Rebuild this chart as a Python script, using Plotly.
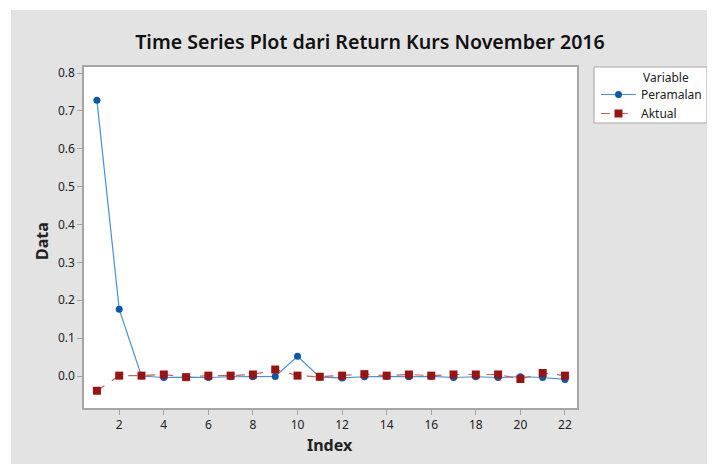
import plotly.graph_objects as go

index = list(range(1, 23))
peramalan = [0.728, 0.176, 0.000, -0.004, -0.003, -0.004, -0.002, -0.002, -0.001, 0.052, -0.003,
             -0.005, -0.002, -0.001, -0.002, -0.001, -0.004, -0.002, -0.004, -0.002, -0.004, -0.009]
aktual = [-0.039, 0.001, 0.001, 0.004, -0.003, 0.001, 0.001, 0.004, 0.017, 0.001, -0.002,
          0.001, 0.005, 0.001, 0.004, 0.001, 0.004, 0.004, 0.004, -0.008, 0.008, 0.001]
x_ticks = list(range(2, 23, 2))
y_ticks = [0.0, 0.1, 0.2, 0.3, 0.4, 0.5, 0.6, 0.7, 0.8]

FONT = "Noto Sans"
OFF = 8  # page body margin
W, H = 715 - OFF, 464 - OFF
L, R, T, B = 84 - OFF, 577 - OFF, 67 - OFF, 408 - OFF
pw, ph = R - L, B - T

def px(xr):
    return (xr - OFF - L) / pw

def py(yr):
    return (B - (yr - OFF)) / ph

fig = go.Figure()
fig.add_trace(go.Scatter(
    x=index, y=peramalan, name="Peramalan", mode="lines+markers",
    line=dict(color="#4A8FD6", width=1.2),
    marker=dict(symbol="circle", size=7, color="#0A58A8"),
))
fig.add_trace(go.Scatter(
    x=index, y=aktual, name="Aktual", mode="lines+markers",
    line=dict(color="#C46060", width=1.2, dash="dash"),
    marker=dict(symbol="square", size=8, color="#9A1313"),
))

axis_common = dict(
    showline=True, linecolor="#A6A6A6", linewidth=1.5, mirror=True,
    ticks="outside", ticklen=5, tickcolor="#A6A6A6", tickwidth=1,
    showgrid=False, zeroline=False,
    tickfont=dict(family=FONT, size=12, color="#222222"),
)

fig.update_layout(
    width=W, height=H,
    margin=dict(l=L, r=W - R, t=T, b=H - B, autoexpand=False),
    paper_bgcolor="#E3E3E3", plot_bgcolor="white",
    title=dict(text="Time Series Plot dari Return Kurs November 2016",
               x=(370 - OFF) / W, xanchor="center", y=1 - (42 - OFF) / H, yanchor="middle",
               font=dict(family=FONT, size=19.6, color="#111111", weight=600)),
    xaxis=dict(range=[0.42, 22.54], tickvals=x_ticks, **axis_common),
    yaxis=dict(range=[-0.0845, 0.816], tickvals=y_ticks, tickformat=".1f", **axis_common),
    showlegend=True,
    legend=dict(x=px(596), y=py(80), xanchor="left", yanchor="top",
                bgcolor="rgba(0,0,0,0)", borderwidth=0,
                font=dict(family=FONT, size=12, color="#222222"),
                tracegroupgap=0, itemwidth=35),
)

# white strips on the left and top edges of the image
fig.add_shape(type="rect", xref="paper", yref="paper", x0=px(-20), x1=px(11), y0=py(480), y1=py(-20),
              fillcolor="white", line=dict(width=0), layer="below")
fig.add_shape(type="rect", xref="paper", yref="paper", x0=px(-20), x1=px(730), y0=py(10), y1=py(-20),
              fillcolor="white", line=dict(width=0), layer="below")
# legend box
fig.add_shape(type="rect", xref="paper", yref="paper", x0=px(594), x1=px(707), y0=py(123), y1=py(67),
              fillcolor="white", line=dict(color="#A6A6A6", width=1), layer="below")

fig.add_annotation(text="<b>Data</b>", xref="paper", yref="paper", x=px(42), y=py(241),
                   xanchor="center", yanchor="middle",
                   showarrow=False, textangle=-90, font=dict(family=FONT, size=16, color="#222222"))
fig.add_annotation(text="<b>Index</b>", xref="paper", yref="paper", x=px(330), y=py(445),
                   xanchor="center", yanchor="middle",
                   showarrow=False, font=dict(family=FONT, size=16, color="#222222"))
fig.add_annotation(text="Variable", xref="paper", yref="paper", x=px(641), y=py(78),
                   xanchor="left", yanchor="middle", showarrow=False,
                   font=dict(family=FONT, size=12, color="#222222"))

fig.write_html("out.html")
